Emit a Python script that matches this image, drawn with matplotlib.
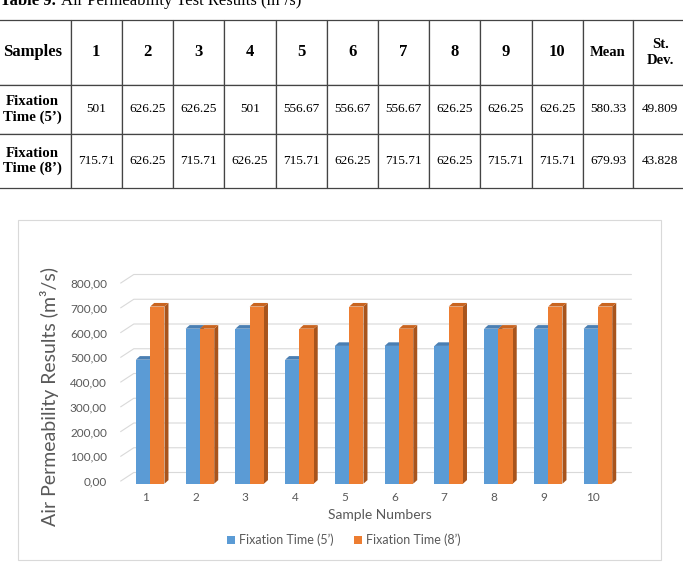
import numpy as np
import matplotlib
matplotlib.use('Agg')
import matplotlib.pyplot as plt
from matplotlib.patches import Polygon, Rectangle, Patch

# data
samples = [1, 2, 3, 4, 5, 6, 7, 8, 9, 10]
time5 = [501, 626.25, 626.25, 501, 556.67, 556.67, 556.67, 626.25, 626.25, 626.25]
time8 = [715.71, 626.25, 715.71, 626.25, 715.71, 626.25, 715.71, 626.25, 715.71, 715.71]
stats5 = [580.33, 49.809]
stats8 = [679.93, 43.828]
series_names = ['Fixation Time (5\u2019)', 'Fixation Time (8\u2019)']
yticks = [0, 100, 200, 300, 400, 500, 600, 700, 800]

W, H = 683, 568
fx = lambda px: px / W
fy = lambda py: 1 - py / H
serif = 'Liberation Serif'
sans = ['Lato', 'DejaVu Sans']
grey = '#595959'

fig = plt.figure(figsize=(W / 100, H / 100), dpi=100)

# caption (cut at the top of the page, like the source)
fig.text(fx(0), fy(5), 'Table 9.', family=serif, weight='bold', fontsize=12, va='baseline')
fig.text(fx(61), fy(5), 'Air Permeability Test Results (m\u00b3/s)', family=serif, fontsize=12, va='baseline')

# table
tax = fig.add_axes([fx(-6), fy(188), 693 / W, 168 / H]); tax.axis('off')
fmt = lambda v: f'{v:g}'
header = ['Samples'] + [str(s) for s in samples] + ['Mean', 'St.\nDev.']
row5 = ['Fixation\nTime (5\u2019)'] + [fmt(v) for v in time5] + [fmt(v) for v in stats5]
row8 = ['Fixation\nTime (8\u2019)'] + [fmt(v) for v in time8] + [fmt(v) for v in stats8]
colw = [76.7] + [51.2] * 10 + [50.6, 53.7]
tab = tax.table(cellText=[header, row5, row8], colWidths=[c / 693 for c in colw],
                cellLoc='center', bbox=[0, 0, 1, 1])
tab.auto_set_font_size(False)
rowh = [65, 49, 54]
ncol = len(header)
for (r, c), cell in tab.get_celld().items():
    cell.set_height(rowh[r] / 168)
    cell.set_edgecolor('#444444'); cell.set_linewidth(0.9)
    cell.visible_edges = 'TBR' if c == 0 else ('TBL' if c == ncol - 1 else 'closed')
    t = cell.get_text(); t.set_family(serif)
    if r == 0:
        t.set_weight('bold'); t.set_fontsize(10.5 if c >= ncol - 2 else 12)
    elif c == 0:
        t.set_weight('bold'); t.set_fontsize(10.7)
    else:
        t.set_fontsize(9.5)

# chart frame
fig.add_artist(Rectangle((fx(17.5), fy(560)), (661 - 17.5) / W, (560 - 219.5) / H,
                         transform=fig.transFigure, fill=False, ec='#D9D9D9', lw=0.8))

ax = fig.add_axes([fx(120.8), fy(481), (618.3 - 120.8) / W, 198 / H])
ax.set_xlim(0.5, 10.5); ax.set_ylim(0, 800)
PX_X = 10 / 497.5
PX_Y = 800 / 198

# back wall + side wall gridlines
bx, by = 13 * PX_X, 8.5 * PX_Y
for v in yticks:
    ax.plot([0.5, 0.5 + bx, 10.5 + bx], [v, v + by, v + by], color='#D9D9D9', lw=0.8,
            clip_on=False, zorder=1)

# pseudo 3d bars
w = 14.3 * PX_X
sx, sy = 4.5 * PX_X, -2.7 * PX_Y
dx, dy = 4 * PX_X, 3.6 * PX_Y
x = np.array(samples, dtype=float)
styles = [('#5B9BD5', '#41719C', '#4A7FB3'), ('#ED7D31', '#A8541C', '#C9641F')]
for k, vals in enumerate([time5, time8]):
    front, side, top = styles[k]
    xc = x + sx + (k - 0.5) * w
    ax.bar(xc, vals, width=w, bottom=sy, color=front, zorder=3 + 2 * k, clip_on=False)
    for xi, v in zip(xc, vals):
        xl, xr, b, t = xi - w / 2, xi + w / 2, sy, v + sy
        ax.add_patch(Polygon([(xr, b), (xr, t), (xr + dx, t + dy), (xr + dx, b + dy)],
                             closed=True, fc=side, ec='none', zorder=2 + 2 * k, clip_on=False))
        ax.add_patch(Polygon([(xl, t), (xr, t), (xr + dx, t + dy), (xl + dx, t + dy)],
                             closed=True, fc=top, ec='none', zorder=2 + 2 * k, clip_on=False))

ax.set_yticks(yticks)
ax.set_yticklabels([f'{v:.2f}'.replace('.', ',') for v in yticks], family=sans, fontsize=8.5, color=grey)
ax.set_xticks(samples)
ax.set_xticklabels([str(s) for s in samples], family=sans, fontsize=8.5, color=grey)
ax.tick_params(axis='y', length=0, pad=10)
ax.tick_params(axis='x', length=0, pad=8)
for s in ax.spines.values():
    s.set_visible(False)
ax.patch.set_visible(False)

fig.text(fx(50), fy(397), 'Air Permeability Results (m\u00b3/s)', rotation=90, ha='center', va='center',
         family=sans, fontsize=14, color=grey)
fig.text(fx(380), fy(515), 'Sample Numbers', ha='center', va='center', family=sans, fontsize=10, color=grey)

handles = [Patch(fc=styles[0][0]), Patch(fc=styles[1][0])]
fig.legend(handles, series_names, loc='center', bbox_to_anchor=(fx(344), fy(540)), ncol=2,
           frameon=False, handlelength=0.65, handleheight=0.65, handletextpad=0.35,
           columnspacing=1.6, prop={'family': sans, 'size': 9}, labelcolor=grey)

fig.savefig('out.png', dpi=100)
